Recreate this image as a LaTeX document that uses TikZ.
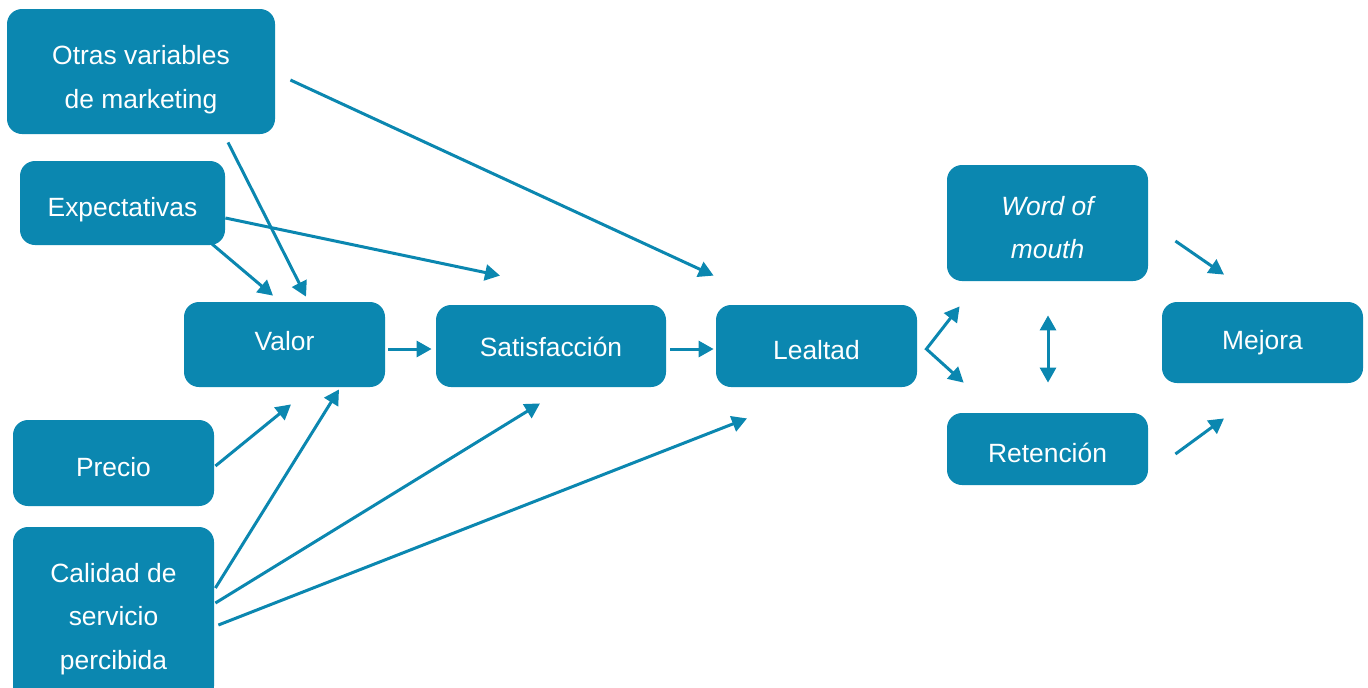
\documentclass[tikz,border=0pt]{standalone}
\usepackage{fontspec}
\setmainfont{Liberation Sans}
\usetikzlibrary{arrows.meta}
\definecolor{mblue}{RGB}{11,135,176}
\newcommand{\dn}[2]{\raisebox{-#1}[\height][\depth]{#2}}

\begin{document}
\begin{tikzpicture}[x=0.5pt,y=-0.5pt,
    box/.style={fill=mblue,rounded corners=7.5pt,text=white,align=center,inner sep=0pt,
      font=\fontsize{13.2}{21.7}\selectfont},
    arr/.style={mblue,line width=1.5pt,-{Triangle[length=7.5pt,width=8pt]}},
    darr/.style={mblue,line width=1.5pt,{Triangle[length=7.5pt,width=8pt]}-{Triangle[length=7.5pt,width=8pt]}}]
    \useasboundingbox (0,0) rectangle (1368,687);
    \node[box,minimum width=134pt,minimum height=62.5pt] (otras) at (141,71.5) {\dn{4pt}{Otras variables}\\\dn{4pt}{de marketing}};
    \node[box,minimum width=102.5pt,minimum height=42pt] (expect) at (122.5,203) {\dn{3.2pt}{Expectativas}};
    \node[box,minimum width=100.5pt,minimum height=42.5pt] (valor) at (284.5,344.5) {\dn{-1.5pt}{Valor}};
    \node[box,minimum width=115pt,minimum height=41pt] (satisf) at (551,346) {\dn{0.3pt}{Satisfacción}};
    \node[box,minimum width=100.5pt,minimum height=41pt] (lealtad) at (816.5,346) {\dn{1.8pt}{Lealtad}};
    \node[box,minimum width=100.5pt,minimum height=58pt] (wom) at (1047.5,223) {\dn{2.3pt}{\itshape Word of}\\\dn{2.3pt}{\itshape mouth}};
    \node[box,minimum width=100.5pt,minimum height=36pt] (retencion) at (1047.5,449) {\dn{2pt}{Retención}};
    \node[box,minimum width=100.5pt,minimum height=40.5pt] (mejora) at (1262.5,342.5) {Mejora};
    \node[box,minimum width=100.5pt,minimum height=43pt] (precio) at (113.5,463) {\dn{2pt}{Precio}};
    \node[box,minimum width=100.5pt,minimum height=87pt] (calidad) at (113.5,614) {\dn{2.5pt}{Calidad de}\\\dn{2.5pt}{servicio}\\\dn{2.5pt}{percibida}};

    \draw[arr] ([shift={(15,8.5)}]otras.east) -- ([shift={(-2,-29)}]lealtad.north west);
    \draw[arr] ([shift={(87,8)}]otras.south) -- ([shift={(21.5,-5)}]valor.north);
    \draw[arr] ([shift={(-20,-7)}]expect.south east) -- ([shift={(-11.5,-6)}]valor.north);
    \draw[arr] ([shift={(0,15)}]expect.east) -- ([shift={(-51,-29)}]satisf.north);
    \draw[arr] ([shift={(3,4.5)}]valor.east) -- ([shift={(-4,3)}]satisf.west);
    \draw[arr] ([shift={(4,3)}]satisf.east) -- ([shift={(-2,3)}]lealtad.west);
    \draw[arr] ([shift={(1,3)}]precio.east) -- ([shift={(6.5,17)}]valor.south);
    \draw[arr] ([shift={(1,-26)}]calidad.east) -- ([shift={(54.5,2)}]valor.south);
    \draw[arr] ([shift={(1,-11)}]calidad.east) -- ([shift={(-11,16)}]satisf.south);
    \draw[arr] ([shift={(4,11)}]calidad.east) -- ([shift={(-69.5,31)}]lealtad.south);
    \draw[darr] ([shift={(13,25)}]wom.south west) -- ([shift={(9,3)}]lealtad.east) -- ([shift={(17,-30)}]retencion.north west);
    \draw[darr] ([shift={(0.5,34)}]wom.south) -- ([shift={(0.5,-30)}]retencion.north);
    \draw[arr] ([shift={(27,18)}]wom.east) -- ([shift={(-38.5,-27)}]mejora.north);
    \draw[arr] ([shift={(27,5)}]retencion.east) -- ([shift={(-38.5,35)}]mejora.south);
  \end{tikzpicture}
\end{document}
